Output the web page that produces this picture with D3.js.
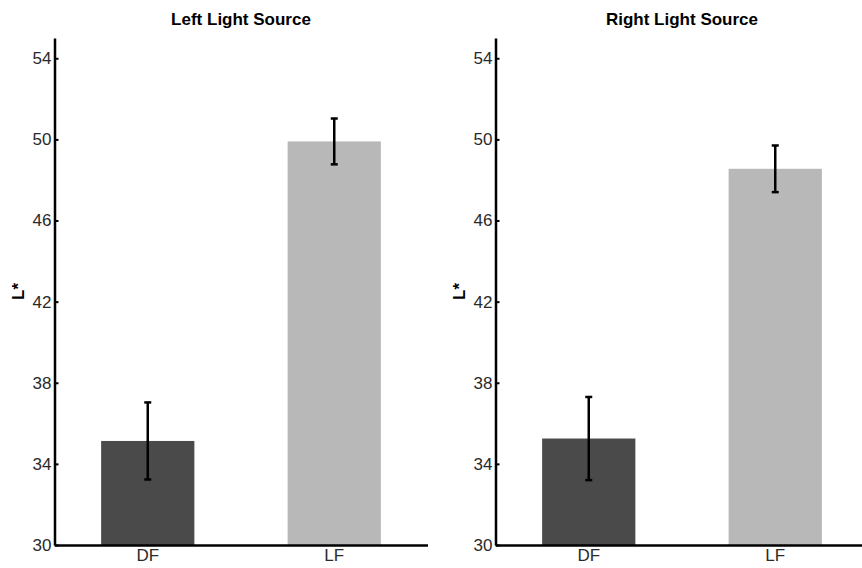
<!DOCTYPE html>
<html>
<head>
<meta charset="utf-8">
<script src="https://cdn.jsdelivr.net/npm/d3@7"></script>
<style>
  body { margin: 0; background: #fff; }
  svg { display: block; font-family: "Liberation Sans", Arial, sans-serif; }
</style>
</head>
<body>
<svg id="chart" width="862" height="568"></svg>
<script>
// values (L* means with error bars)
const categories = ["DF", "LF"];
const panelTitles = ["Left Light Source", "Right Light Source"];
const leftMeans = [35.13, 49.9];
const leftErrors = [1.9, 1.13];
const rightMeans = [35.25, 48.55];
const rightErrors = [2.05, 1.15];
const yTicks = [30, 34, 38, 42, 46, 50, 54];
const barColors = ["#4a4a4a", "#b8b8b8"];

const svg = d3.select("#chart");
const plotTop = 38, plotBottom = 545, innerW = 373;
const panelX = [54.5, 495.5];

const y = d3.scaleLinear().domain([30, 55]).range([plotBottom, plotTop]);
const x = d3
  .scaleBand()
  .domain(categories)
  .range([0, innerW])
  .paddingInner(0.5)
  .paddingOuter(0.25);

const panels = [
  { title: panelTitles[0], means: leftMeans, errors: leftErrors },
  { title: panelTitles[1], means: rightMeans, errors: rightErrors },
];

panels.forEach(function (p, k) {
  const g = svg.append("g").attr("transform", "translate(" + panelX[k] + ",0)");
  const rows = categories.map(function (c, i) {
    return { cat: c, mean: p.means[i], err: p.errors[i], color: barColors[i] };
  });

  g.selectAll("rect.bar")
    .data(rows)
    .enter()
    .append("rect")
    .attr("class", "bar")
    .attr("x", (d) => x(d.cat))
    .attr("width", x.bandwidth())
    .attr("y", (d) => y(d.mean))
    .attr("height", (d) => y(30) - y(d.mean))
    .attr("fill", (d) => d.color);

  // error bars
  const eb = g.selectAll("g.err").data(rows).enter().append("g").attr("class", "err");
  const cx = (d) => x(d.cat) + x.bandwidth() / 2;
  eb.append("line")
    .attr("x1", cx)
    .attr("x2", cx)
    .attr("y1", (d) => y(d.mean + d.err))
    .attr("y2", (d) => y(d.mean - d.err))
    .attr("stroke", "#000")
    .attr("stroke-width", 2.5);
  [1, -1].forEach(function (s) {
    eb.append("line")
      .attr("x1", (d) => cx(d) - 3.5)
      .attr("x2", (d) => cx(d) + 3.5)
      .attr("y1", (d) => y(d.mean + s * d.err))
      .attr("y2", (d) => y(d.mean + s * d.err))
      .attr("stroke", "#000")
      .attr("stroke-width", 2.5);
  });

  // y axis, ticks pointing inward
  const ya = g
    .append("g")
    .call(d3.axisLeft(y).tickValues(yTicks).tickSizeInner(-4).tickSizeOuter(0).tickPadding(3));
  ya.select(".domain").attr("stroke-width", 2.5);
  ya.selectAll(".tick line").attr("stroke-width", 2);
  ya.selectAll(".tick text")
    .attr("font-size", 17)
    .attr("fill", "#2a2a2a")
    .attr("font-family", "Liberation Sans, Arial, sans-serif");

  const xa = g
    .append("g")
    .attr("transform", "translate(0," + plotBottom + ")")
    .call(d3.axisBottom(x).tickSize(0).tickPadding(4));
  xa.select(".domain").attr("stroke-width", 2.5);
  xa.selectAll(".tick text")
    .attr("font-size", 17)
    .attr("fill", "#2a2a2a")
    .attr("font-family", "Liberation Sans, Arial, sans-serif");

  g.append("text")
    .attr("x", innerW / 2)
    .attr("y", 25)
    .attr("text-anchor", "middle")
    .attr("font-size", 17)
    .attr("font-weight", "bold")
    .text(p.title);

  g.append("text")
    .attr("transform", "translate(-31," + (plotTop + plotBottom) / 2 + ") rotate(-90)")
    .attr("text-anchor", "middle")
    .attr("font-size", 17)
    .attr("font-weight", "bold")
    .text("L*");
});
</script>
</body>
</html>
